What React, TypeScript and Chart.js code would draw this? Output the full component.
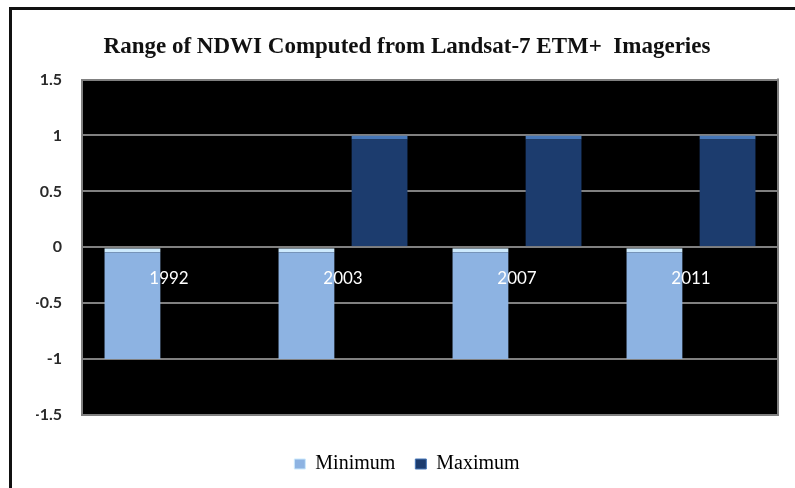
import { useEffect, useRef } from 'react';
import { Chart, registerables } from 'chart.js';

Chart.register(...registerables);

const chartTitle = 'Range of NDWI Computed from Landsat-7 ETM+  Imageries';
const categories = ['1992', '2003', '2007', '2011'];
const minimumValues = [-1, -1, -1, -1];
const maximumValues: (number | null)[] = [null, 1, 1, 1];
const yTicks = [-1.5, -1, -0.5, 0, 0.5, 1, 1.5];

const plotFrame = {
  id: 'plotFrame',
  beforeDraw(chart: any) {
    const { ctx, chartArea: a } = chart;
    ctx.save();
    ctx.fillStyle = '#000000';
    ctx.fillRect(a.left, a.top, a.right - a.left, a.bottom - a.top);
    ctx.restore();
  },
  afterDraw(chart: any) {
    const { ctx, chartArea: a } = chart;
    ctx.save();
    ctx.strokeStyle = '#808080';
    ctx.lineWidth = 2;
    ctx.beginPath();
    ctx.moveTo(a.right, a.top - 1);
    ctx.lineTo(a.right, a.bottom + 1);
    ctx.stroke();
    ctx.restore();
  },
};

export default function App() {
  const ref = useRef<HTMLCanvasElement | null>(null);

  useEffect(() => {
    if (!ref.current) return;
    const chart = new Chart(ref.current, {
      type: 'bar',
      data: {
        labels: categories,
        datasets: [
          {
            label: 'Minimum',
            data: minimumValues,
            backgroundColor: '#8db3e2',
            borderColor: '#cdeafd',
            borderWidth: { top: 4, left: 0, right: 0, bottom: 0 },
            borderSkipped: false,
            categoryPercentage: 0.84,
            barPercentage: 0.77,
          },
          {
            label: 'Maximum',
            data: maximumValues,
            backgroundColor: '#1c3c6e',
            borderColor: '#4677b8',
            borderWidth: { top: 4, left: 0, right: 0, bottom: 0 },
            borderSkipped: false,
            categoryPercentage: 0.84,
            barPercentage: 0.77,
          },
        ],
      },
      options: {
        responsive: false,
        animation: false,
        layout: { padding: { top: 0, left: 24, right: 17, bottom: 4 } },
        plugins: {
          title: {
            display: true,
            text: chartTitle,
            color: '#111111',
            font: { family: '"Liberation Serif", "Times New Roman", serif', size: 23, weight: 'bold', lineHeight: 1.2 },
            padding: { top: 23, bottom: 19 },
          },
          legend: {
            display: true,
            position: 'bottom',
            title: { display: true, text: '', padding: 0, font: { size: 10, lineHeight: 1.9 } },
            labels: {
              color: '#000000',
              font: { family: '"Liberation Serif", "Times New Roman", serif', size: 20 },
              boxWidth: 11,
              boxHeight: 10,
              padding: 20,
            },
          },
          tooltip: { enabled: false },
        },
        scales: {
          x: {
            type: 'category',
            position: { y: 0 } as any,
            grid: { display: false, drawTicks: false },
            border: { display: false },
            ticks: {
              z: 1,
              color: '#ffffff',
              font: { family: 'Lato, "Open Sans", sans-serif', size: 17 },
              padding: 21,
              maxRotation: 0,
            },
            afterFit(scale: any) {
              scale.height = 0;
            },
          },
          y: {
            min: -1.5,
            max: 1.5,
            afterBuildTicks(scale: any) {
              scale.ticks = yTicks.map((v) => ({ value: v }));
            },
            grid: { color: '#808080', lineWidth: 2, drawTicks: false },
            border: { display: true, color: '#808080', width: 2 },
            ticks: {
              color: '#2a2a2a',
              font: { family: 'Lato, "Open Sans", sans-serif', size: 16, weight: 'bold' },
              padding: 20,
              callback: (v: any) => String(v),
            },
            afterFit(scale: any) {
              scale.width = 46;
            },
          },
        },
      } as any,
      plugins: [plotFrame],
    });
    return () => chart.destroy();
  }, []);

  return (
    <div
      style={{
        position: 'absolute',
        left: 9,
        top: 7,
        borderTop: '3px solid #111',
        borderLeft: '3px solid #111',
        width: 783,
        height: 478,
        background: '#ffffff',
      }}
    >
      <canvas ref={ref} width={783} height={478} style={{ display: 'block', width: 783, height: 478 }} />
    </div>
  );
}
